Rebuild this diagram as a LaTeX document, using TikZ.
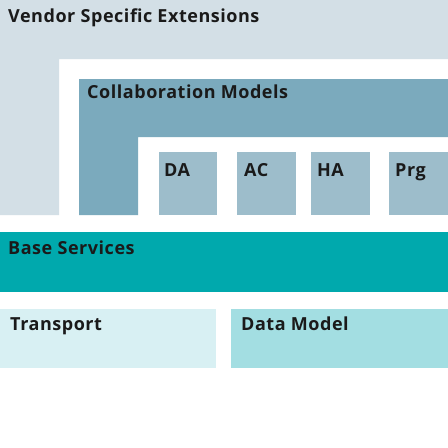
\documentclass[tikz,border=0pt]{standalone}
\usepackage{fontspec}
\setmainfont[LetterSpace=3]{Open Sans}
\definecolor{vendorc}{HTML}{D3DFE6}
\definecolor{collabc}{HTML}{7BAABD}
\definecolor{modelc}{HTML}{9DBDCB}
\definecolor{basec}{HTML}{00A9AD}
\definecolor{transc}{HTML}{D8F0F3}
\definecolor{datac}{HTML}{A3DEE2}
\definecolor{txtc}{HTML}{1A1A1A}
\tikzset{
  lbl/.style={anchor=base west, inner sep=0pt, text=txtc, font=\bfseries\fontsize{18}{21}\selectfont},
}
\begin{document}
\begin{tikzpicture}[x=1pt,y=-1pt]
\useasboundingbox (0,0) rectangle (448,448);
\fill[white] (0,0) rectangle (448,448);
% Vendor Specific Extensions (L-shape)
\fill[vendorc] (0,0) -- (448,0) -- (448,59) -- (59,59) -- (59,215) -- (0,215) -- cycle;
% Collaboration Models (L-shape)
\fill[collabc] (79,79) -- (448,79) -- (448,137) -- (138,137) -- (138,215) -- (79,215) -- cycle;
% models
\fill[modelc] (159,152) rectangle (217,215);
\fill[modelc] (237,152) rectangle (296,215);
\fill[modelc] (311,152) rectangle (370,215);
\fill[modelc] (389,152) rectangle (448,215);
% Base Services
\fill[basec] (0,232) rectangle (448,292);
% Transport and Data Model
\fill[transc] (0,309) rectangle (216,368);
\fill[datac] (231,309) rectangle (448,368);
% labels
\node[lbl] (vendor) at (8,22) {Vendor Specific Extensions};
\node[lbl] (collab) at (87,98) {Collaboration Models};
\node[lbl] (da) at (164,176) {DA};
\node[lbl] (ac) at (244,176) {AC};
\node[lbl] (ha) at (317,176) {HA};
\node[lbl] (prg) at (395,176) {Prg};
\node[lbl] (base) at (8,254) {Base Services};
\node[lbl] (trans) at (10,330) {Transport};
\node[lbl] (data) at (241,330) {Data Model};
\end{tikzpicture}
\end{document}
